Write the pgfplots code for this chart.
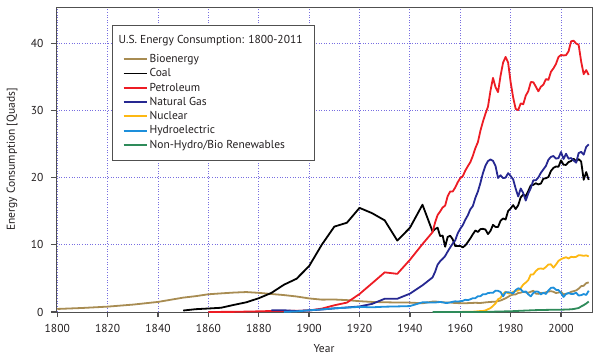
\documentclass[border=0pt]{standalone}
\usepackage{fontspec}
\setmainfont{PT Sans}
\usepackage{pgfplots}
\pgfplotsset{compat=1.18}
\usetikzlibrary{calc}
\definecolor{bio}{RGB}{168,140,82}
\definecolor{coal}{RGB}{0,0,0}
\definecolor{petro}{RGB}{237,28,36}
\definecolor{gas}{RGB}{38,40,145}
\definecolor{nuc}{RGB}{253,184,19}
\definecolor{hydro}{RGB}{29,143,219}
\definecolor{ren}{RGB}{46,139,90}
\definecolor{gridc}{RGB}{120,110,225}
\definecolor{axc}{RGB}{80,80,80}
\definecolor{txt}{RGB}{35,31,32}
\begin{document}
\begin{tikzpicture}
\begin{axis}[
  name=ax,
  scale only axis,
  width=536pt, height=305pt,
  xmin=1799.5, xmax=2012.3, ymin=0, ymax=45.4,
  xtick={1800,1820,...,2000},
  ytick={0,10,20,30,40},
  xticklabel style={/pgf/number format/1000 sep={}, yshift=-4pt},
  yticklabel style={xshift=-4pt},
  /pgf/number format/assume math mode=true,
  tick label style={font=\fontsize{11.5}{13}\selectfont, text=txt},
  label style={font=\fontsize{11.5}{13}\selectfont, text=txt},
  xlabel={Year}, ylabel={Energy Consumption [Quads]},
  xlabel style={at={(axis description cs:0.5,-0.121)}, anchor=center},
  ylabel style={at={(axis description cs:-0.082,0.5)}, anchor=center},
  axis line style={draw=axc, line width=0.9pt},
  tick align=outside,
  xtick pos=lower, ytick pos=left,
  major tick length=5pt,
  tick style={draw=axc, line width=1.3pt},
  grid=major,
  major grid style={draw=gridc, line width=0.8pt, dash pattern=on 1pt off 1.6pt},
  legend cell align=left,
  legend style={at={(0.106,0.941)}, anchor=north west, draw=axc, line width=0.9pt,
    font=\fontsize{11.5}{13}\selectfont, text=txt, inner xsep=10pt, inner ysep=8.5pt,
    row sep=0.6pt, outer sep=0pt},
  legend image code/.code={\draw[#1, line width=1.8pt] (0pt,0pt) -- (23pt,0pt);},
  every axis plot/.append style={line width=1.8pt, line join=round},
]
\addlegendimage{empty legend}
\addlegendentry{\hspace*{-31pt}U.S. Energy Consumption: 1800-2011}
\addlegendimage{empty legend}
\addlegendentry[inner ysep=1.3pt]{}
% Bioenergy
\addplot[bio] coordinates {
(1800,0.45)(1810,0.6)(1820,0.8)(1830,1.1)(1840,1.5)(1850,2.14)(1855,2.36)(1860,2.64)(1865,2.77)(1870,2.89)(1875,2.97)(1880,2.85)(1885,2.68)(1890,2.52)(1895,2.31)(1900,2.02)(1905,1.84)(1910,1.86)(1915,1.77)(1920,1.61)(1925,1.50)(1930,1.45)(1935,1.41)(1940,1.40)(1945,1.30)(1949,1.55)(1950,1.56)(1952,1.49)(1954,1.42)(1956,1.42)(1958,1.33)(1960,1.32)(1962,1.30)(1964,1.34)(1966,1.37)(1968,1.34)(1970,1.43)(1972,1.50)(1974,1.54)(1976,1.71)(1978,2.04)(1980,2.48)(1981,2.59)(1982,2.62)(1983,2.83)(1984,2.88)(1985,3.02)(1986,2.93)(1987,2.87)(1988,3.02)(1989,3.16)(1990,2.74)(1991,2.70)(1992,2.85)(1993,2.80)(1994,2.94)(1995,3.04)(1996,3.10)(1997,3.01)(1998,2.83)(1999,2.89)(2000,3.01)(2001,2.62)(2002,2.71)(2003,2.80)(2004,3.00)(2005,3.10)(2006,3.21)(2007,3.47)(2008,3.85)(2009,3.90)(2010,4.29)(2011,4.41)};
\addlegendentry{Bioenergy}
% Coal
\addplot[coal] coordinates {
(1850,0.22)(1855,0.42)(1860,0.52)(1865,0.63)(1870,1.05)(1875,1.44)(1880,2.05)(1885,2.84)(1890,4.06)(1895,4.95)(1900,6.84)(1905,10.0)(1910,12.71)(1915,13.29)(1920,15.50)(1925,14.71)(1930,13.64)(1935,10.63)(1940,12.53)(1945,15.97)(1949,11.98)(1950,12.35)(1951,12.55)(1952,11.31)(1953,11.37)(1954,9.72)(1955,11.17)(1956,11.35)(1957,10.82)(1958,9.81)(1959,9.82)(1960,9.84)(1961,9.62)(1962,9.91)(1963,10.41)(1964,10.96)(1965,11.58)(1966,12.14)(1967,11.91)(1968,12.33)(1969,12.38)(1970,12.27)(1971,11.60)(1972,12.08)(1973,12.97)(1974,12.66)(1975,12.66)(1976,13.58)(1977,13.92)(1978,13.77)(1979,15.04)(1980,15.42)(1981,15.91)(1982,15.32)(1983,15.89)(1984,17.07)(1985,17.48)(1986,17.26)(1987,18.01)(1988,18.85)(1989,18.93)(1990,19.17)(1991,18.99)(1992,19.12)(1993,19.84)(1994,19.91)(1995,20.09)(1996,21.00)(1997,21.45)(1998,21.66)(1999,21.62)(2000,22.58)(2001,21.91)(2002,21.90)(2003,22.32)(2004,22.47)(2005,22.80)(2006,22.45)(2007,22.75)(2008,22.39)(2009,19.69)(2010,20.83)(2011,19.66)};
\addlegendentry{Coal}
% Petroleum
\addplot[petro] coordinates {
(1860,0.01)(1870,0.02)(1880,0.10)(1885,0.15)(1890,0.16)(1895,0.17)(1900,0.23)(1905,0.50)(1910,1.00)(1915,1.40)(1920,2.68)(1925,4.28)(1930,5.90)(1935,5.68)(1940,7.76)(1945,10.11)(1949,11.88)(1950,13.32)(1951,14.43)(1952,14.96)(1953,15.56)(1954,15.84)(1955,17.25)(1956,17.94)(1957,17.93)(1958,18.53)(1959,19.32)(1960,19.92)(1961,20.22)(1962,21.05)(1963,21.70)(1964,22.30)(1965,23.25)(1966,24.40)(1967,25.28)(1968,26.98)(1969,28.34)(1970,29.52)(1971,30.56)(1972,32.95)(1973,34.84)(1974,33.45)(1975,32.73)(1976,35.18)(1977,37.12)(1978,37.97)(1979,37.12)(1980,34.20)(1981,31.93)(1982,30.23)(1983,30.05)(1984,31.05)(1985,30.92)(1986,32.20)(1987,32.87)(1988,34.22)(1989,34.21)(1990,33.55)(1991,32.85)(1992,33.53)(1993,33.84)(1994,34.67)(1995,34.55)(1996,35.76)(1997,36.27)(1998,36.93)(1999,37.96)(2000,38.26)(2001,38.19)(2002,38.23)(2003,38.81)(2004,40.29)(2005,40.39)(2006,39.96)(2007,39.77)(2008,37.28)(2009,35.40)(2010,36.01)(2011,35.28)};
\addlegendentry{Petroleum}
% Natural gas
\addplot[gas] coordinates {
(1885,0.25)(1890,0.26)(1895,0.15)(1900,0.25)(1905,0.37)(1910,0.54)(1915,0.67)(1920,0.83)(1925,1.21)(1930,1.97)(1935,1.97)(1940,2.73)(1945,3.97)(1949,5.15)(1950,5.97)(1951,7.05)(1952,7.55)(1953,7.91)(1954,8.33)(1955,9.00)(1956,9.61)(1957,10.19)(1958,10.66)(1959,11.72)(1960,12.39)(1961,12.93)(1962,13.73)(1963,14.40)(1964,15.29)(1965,15.77)(1966,16.99)(1967,17.94)(1968,19.21)(1969,20.68)(1970,21.79)(1971,22.47)(1972,22.70)(1973,22.51)(1974,21.73)(1975,19.95)(1976,20.35)(1977,19.93)(1978,20.00)(1979,20.67)(1980,20.24)(1981,19.74)(1982,18.36)(1983,17.20)(1984,18.39)(1985,17.70)(1986,16.59)(1987,17.64)(1988,18.45)(1989,19.60)(1990,19.60)(1991,20.03)(1992,20.71)(1993,21.23)(1994,21.73)(1995,22.67)(1996,23.09)(1997,23.22)(1998,22.83)(1999,22.91)(2000,23.82)(2001,22.77)(2002,23.56)(2003,22.83)(2004,22.91)(2005,22.56)(2006,22.22)(2007,23.66)(2008,23.84)(2009,23.42)(2010,24.58)(2011,24.95)};
\addlegendentry{Natural Gas}
% Nuclear
\addplot[nuc] coordinates {
(1957,0.00)(1960,0.01)(1965,0.04)(1968,0.14)(1969,0.15)(1970,0.24)(1971,0.41)(1972,0.58)(1973,0.91)(1974,1.27)(1975,1.90)(1976,2.11)(1977,2.70)(1978,3.02)(1979,2.78)(1980,2.74)(1981,3.01)(1982,3.13)(1983,3.20)(1984,3.55)(1985,4.08)(1986,4.38)(1987,4.75)(1988,5.59)(1989,5.60)(1990,6.10)(1991,6.42)(1992,6.48)(1993,6.41)(1994,6.69)(1995,7.08)(1996,7.09)(1997,6.60)(1998,7.07)(1999,7.61)(2000,7.86)(2001,8.03)(2002,8.15)(2003,7.96)(2004,8.22)(2005,8.16)(2006,8.21)(2007,8.46)(2008,8.43)(2009,8.36)(2010,8.43)(2011,8.27)};
\addlegendentry{Nuclear}
% Hydroelectric
\addplot[hydro] coordinates {
(1890,0.02)(1895,0.09)(1900,0.25)(1905,0.39)(1910,0.54)(1915,0.66)(1920,0.76)(1925,0.70)(1930,0.79)(1935,0.83)(1940,0.88)(1945,1.44)(1949,1.42)(1950,1.42)(1951,1.45)(1952,1.50)(1953,1.44)(1954,1.36)(1955,1.36)(1956,1.43)(1957,1.52)(1958,1.59)(1959,1.55)(1960,1.61)(1961,1.66)(1962,1.82)(1963,1.77)(1964,1.89)(1965,2.06)(1966,2.06)(1967,2.35)(1968,2.35)(1969,2.65)(1970,2.63)(1971,2.82)(1972,2.86)(1973,2.86)(1974,3.18)(1975,3.15)(1976,2.98)(1977,2.33)(1978,2.94)(1979,2.93)(1980,2.90)(1981,2.76)(1982,3.27)(1983,3.53)(1984,3.39)(1985,2.97)(1986,3.07)(1987,2.63)(1988,2.33)(1989,2.84)(1990,3.05)(1991,3.02)(1992,2.62)(1993,2.89)(1994,2.68)(1995,3.21)(1996,3.59)(1997,3.64)(1998,3.30)(1999,3.27)(2000,2.81)(2001,2.24)(2002,2.69)(2003,2.82)(2004,2.69)(2005,2.70)(2006,2.87)(2007,2.45)(2008,2.51)(2009,2.67)(2010,2.54)(2011,3.17)};
\addlegendentry{Hydroelectric}
% Non-hydro renewables
\addplot[ren] coordinates {
(1949,0.00)(1960,0.00)(1970,0.01)(1975,0.07)(1980,0.11)(1985,0.20)(1990,0.28)(1995,0.32)(2000,0.34)(2003,0.38)(2005,0.44)(2006,0.52)(2007,0.59)(2008,0.83)(2009,1.02)(2010,1.26)(2011,1.56)};
\addlegendentry{Non-Hydro/Bio Renewables}
\end{axis}
\pgfresetboundingbox
\path ($(ax.south west)+(-56pt,-47pt)$) rectangle ($(ax.north east)+(8pt,7pt)$);
\end{tikzpicture}
\end{document}
